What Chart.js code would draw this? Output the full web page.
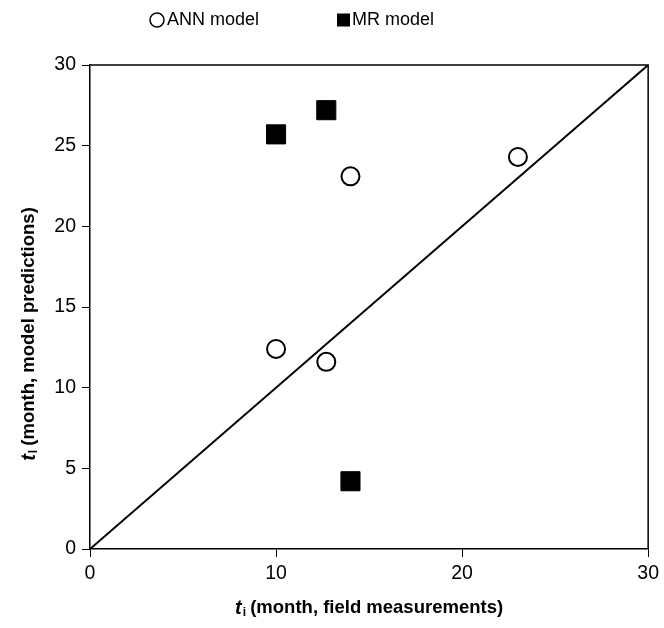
<!DOCTYPE html>
<html>
<head>
<meta charset="utf-8">
<script src="https://cdn.jsdelivr.net/npm/chart.js@4"></script>
<style>
  body { margin: 0; background: #fff; }
  canvas { display: block; }
</style>
</head>
<body>
<canvas id="chart" width="664" height="628"></canvas>
<script>
const annX = [10.0, 12.7, 14.0, 23.0];
const annY = [12.4, 11.6, 23.1, 24.3];
const mrX = [10.0, 12.7, 14.0];
const mrY = [25.7, 27.2, 4.2];
const lineX = [0, 30];
const lineY = [0, 30];
const xTicks = [0, 10, 20, 30];
const yTicks = [0, 5, 10, 15, 20, 25, 30];
const legendNames = ["ANN model", "MR model"];

const FONT = "'Liberation Sans', Arial, sans-serif";

function pts(xs, ys) {
    return xs.map((x, i) => ({ x: x, y: ys[i] }));
}

// frame, legend and axis titles (mixed italic / subscript text)
const decor = {
    id: "decor",
    afterDraw(c) {
        const ctx = c.ctx;
        const a = c.chartArea;
        ctx.save();
        ctx.strokeStyle = "#000";
        ctx.lineWidth = 1.5;
        ctx.beginPath();
        ctx.moveTo(a.left, a.top);
        ctx.lineTo(a.right, a.top);
        ctx.lineTo(a.right, a.bottom);
        ctx.stroke();

        // legend
        ctx.fillStyle = "#000";
        ctx.font = "18px " + FONT;
        ctx.textBaseline = "middle";
        ctx.textAlign = "left";
        ctx.lineWidth = 1.5;
        ctx.beginPath();
        ctx.arc(157, 20, 7, 0, Math.PI * 2);
        ctx.stroke();
        ctx.fillText(legendNames[0], 167, 20);
        ctx.fillRect(337, 13.5, 13, 13);
        ctx.fillText(legendNames[1], 352, 20);

        // x title
        drawTitle(ctx, "i", " (month, field measurements)", (a.left + a.right) / 2, 608);

        // y title
        ctx.translate(29, 334);
        ctx.rotate(-Math.PI / 2);
        drawTitle(ctx, "l", " (month, model predictions)", 0, 0);
        ctx.restore();
    }
};

function drawTitle(ctx, sub, rest, cx, cy) {
    const big = "bold 18.5px " + FONT;
    const ital = "italic bold 20px " + FONT;
    const small = "bold 12px " + FONT;
    ctx.textBaseline = "middle";
    ctx.textAlign = "left";
    ctx.font = ital; const w1 = ctx.measureText("t").width;
    ctx.font = small; const w2 = ctx.measureText(sub).width;
    ctx.font = big; const w3 = ctx.measureText(rest).width;
    let x = cx - (w1 + w2 + w3) / 2;
    ctx.fillStyle = "#000";
    ctx.font = ital; ctx.fillText("t", x, cy); x += w1 + 1;
    ctx.font = small; ctx.fillText(sub, x, cy + 5); x += w2 - 1;
    ctx.font = big; ctx.fillText(rest, x, cy);
}

const axisCommon = {
    type: "linear",
    min: 0,
    max: 30,
    border: { display: true, color: "#000", width: 1.5 },
    grid: { drawOnChartArea: false, drawTicks: true, tickLength: 8, tickColor: "#000", tickWidth: 1 },
    ticks: { color: "#000", font: { family: FONT, size: 19.5 } }
};

new Chart(document.getElementById("chart"), {
    type: "scatter",
    data: {
        datasets: [
            {
                label: legendNames[0],
                data: pts(annX, annY),
                pointStyle: "circle",
                pointRadius: 9,
                pointBorderWidth: 2,
                pointBackgroundColor: "#fff",
                pointBorderColor: "#000"
            },
            {
                label: legendNames[1],
                data: pts(mrX, mrY),
                pointStyle: "rect",
                pointRadius: 13.5,
                pointBorderWidth: 1,
                pointBackgroundColor: "#000",
                pointBorderColor: "#000"
            },
            {
                label: "1:1",
                data: pts(lineX, lineY),
                showLine: true,
                pointRadius: 0,
                borderColor: "#000",
                borderWidth: 2
            }
        ]
    },
    options: {
        responsive: false,
        animation: false,
        layout: { padding: { top: 65, right: 5, left: 0, bottom: 0 } },
        plugins: { legend: { display: false }, tooltip: { enabled: false } },
        scales: {
            x: Object.assign({}, axisCommon, {
                ticks: Object.assign({}, axisCommon.ticks, { padding: 5 }),
                afterBuildTicks: s => { s.ticks = xTicks.map(v => ({ value: v })); },
                afterFit: s => { s.height = 79; }
            }),
            y: Object.assign({}, axisCommon, {
                ticks: Object.assign({}, axisCommon.ticks, { padding: 6 }),
                afterBuildTicks: s => { s.ticks = yTicks.map(v => ({ value: v })); },
                afterFit: s => { s.width = 90; }
            })
        }
    },
    plugins: [decor]
});
</script>
</body>
</html>
